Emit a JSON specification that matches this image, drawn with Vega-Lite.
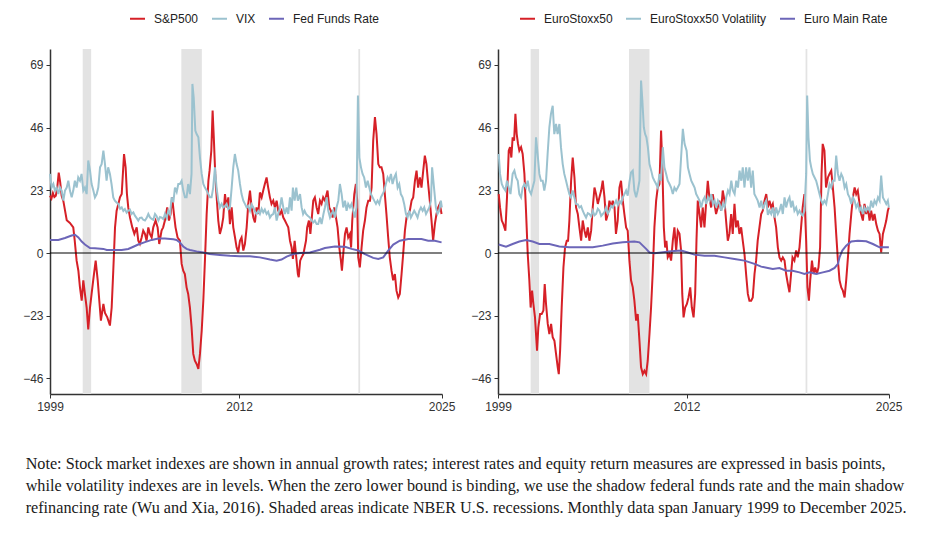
{
  "$schema": "https://vega.github.io/schema/vega-lite/v6.json",
  "padding": {"left": 22, "top": 10, "right": 10, "bottom": 5},
  "bounds": "flush",
  "spacing": 56,
  "datasets": {
    "rec": [
      {"a": 2001.25, "b": 2001.83},
      {"a": 2008.03, "b": 2009.44},
      {"a": 2020.2, "b": 2020.32}
    ],
    "sp": [
      {"t":1999.0,"v":21},{"t":1999.1,"v":20},{"t":1999.2,"v":22},{"t":1999.3,"v":20.5},{"t":1999.4,"v":21},{"t":1999.5,"v":24},{"t":1999.6,"v":29.5},{"t":1999.7,"v":26},{"t":1999.8,"v":21},{"t":1999.92,"v":19},
      {"t":2000.15,"v":12},{"t":2000.37,"v":11},{"t":2000.6,"v":9.4},{"t":2000.7,"v":4.5},{"t":2000.83,"v":-2.8},{"t":2000.95,"v":-6.5},{"t":2001.06,"v":-12.6},{"t":2001.18,"v":-17.5},{"t":2001.29,"v":-10},{"t":2001.4,"v":-15},{"t":2001.52,"v":-20},{"t":2001.63,"v":-28},{"t":2001.75,"v":-20},{"t":2001.86,"v":-15},{"t":2001.97,"v":-10},
      {"t":2002.14,"v":-2.8},{"t":2002.28,"v":-10},{"t":2002.39,"v":-17.5},{"t":2002.5,"v":-24.8},{"t":2002.67,"v":-18.7},{"t":2002.78,"v":-22},{"t":2002.94,"v":-23.6},{"t":2003.12,"v":-26.6},{"t":2003.24,"v":-20},{"t":2003.35,"v":-6.5},{"t":2003.47,"v":9.4},{"t":2003.58,"v":15.5},{"t":2003.7,"v":18},{"t":2003.81,"v":20.4},{"t":2003.93,"v":21.6},
      {"t":2004.09,"v":36.3},{"t":2004.2,"v":31.4},{"t":2004.29,"v":21.6},{"t":2004.38,"v":16.7},{"t":2004.5,"v":13},{"t":2004.66,"v":9.4},{"t":2004.8,"v":7},{"t":2004.96,"v":9.4},{"t":2005.07,"v":4.5},{"t":2005.18,"v":3.3},{"t":2005.3,"v":5.7},{"t":2005.41,"v":8.2},{"t":2005.53,"v":7},{"t":2005.64,"v":4.5},{"t":2005.76,"v":9.4},{"t":2005.87,"v":7},{"t":2005.99,"v":5.7},
      {"t":2006.1,"v":9.4},{"t":2006.26,"v":11.9},{"t":2006.4,"v":9.4},{"t":2006.51,"v":3.3},{"t":2006.67,"v":8.2},{"t":2006.78,"v":9.4},{"t":2006.9,"v":11.9},{"t":2007.06,"v":16.7},{"t":2007.18,"v":11.9},{"t":2007.29,"v":14.3},{"t":2007.4,"v":20.4},{"t":2007.52,"v":14.3},{"t":2007.63,"v":9.4},{"t":2007.77,"v":5.7},{"t":2007.93,"v":4.5},
      {"t":2008.05,"v":-4},{"t":2008.16,"v":-6.5},{"t":2008.27,"v":-7.7},{"t":2008.39,"v":-12.6},{"t":2008.5,"v":-15},{"t":2008.62,"v":-20},{"t":2008.73,"v":-27},{"t":2008.85,"v":-37},{"t":2008.96,"v":-39.5},{"t":2009.08,"v":-40.7},{"t":2009.2,"v":-42.5},{"t":2009.31,"v":-37},{"t":2009.43,"v":-28.5},{"t":2009.54,"v":-17.5},{"t":2009.66,"v":-1.6},{"t":2009.77,"v":14.3},{"t":2009.89,"v":26.5},{"t":2009.97,"v":30.2},
      {"t":2010.09,"v":37.5},{"t":2010.18,"v":52.2},{"t":2010.27,"v":41.2},{"t":2010.36,"v":29},{"t":2010.46,"v":20.4},{"t":2010.57,"v":11.9},{"t":2010.68,"v":7},{"t":2010.8,"v":9.4},{"t":2010.91,"v":13},{"t":2011.03,"v":21.6},{"t":2011.14,"v":16.7},{"t":2011.26,"v":20.4},{"t":2011.37,"v":10.6},{"t":2011.49,"v":16.7},{"t":2011.6,"v":9.4},{"t":2011.72,"v":5.7},{"t":2011.83,"v":2},{"t":2011.94,"v":0.2},
      {"t":2012.06,"v":4.5},{"t":2012.17,"v":5.7},{"t":2012.29,"v":0.9},{"t":2012.4,"v":3.3},{"t":2012.52,"v":9.4},{"t":2012.63,"v":18},{"t":2012.75,"v":22.9},{"t":2012.86,"v":16.7},{"t":2012.98,"v":13},{"t":2013.09,"v":11.2},{"t":2013.2,"v":16.7},{"t":2013.32,"v":14.3},{"t":2013.43,"v":22.2},{"t":2013.55,"v":20.4},{"t":2013.66,"v":22.9},{"t":2013.77,"v":25.3},{"t":2013.89,"v":27.7},
      {"t":2014.0,"v":24},{"t":2014.12,"v":20.4},{"t":2014.23,"v":18},{"t":2014.35,"v":19.2},{"t":2014.46,"v":16.7},{"t":2014.58,"v":19.2},{"t":2014.69,"v":15.5},{"t":2014.81,"v":14.3},{"t":2014.92,"v":15.5},{"t":2015.04,"v":13},{"t":2015.15,"v":11.9},{"t":2015.27,"v":10.6},{"t":2015.38,"v":9.4},{"t":2015.5,"v":4.5},{"t":2015.61,"v":2},{"t":2015.7,"v":-2.2},{"t":2015.82,"v":4.5},{"t":2015.93,"v":-1.6},
      {"t":2016.04,"v":-7.7},{"t":2016.1,"v":-8.9},{"t":2016.2,"v":-2.8},{"t":2016.3,"v":-1.6},{"t":2016.42,"v":-0.4},{"t":2016.6,"v":4.5},{"t":2016.68,"v":9.4},{"t":2016.8,"v":11.9},{"t":2016.9,"v":7},{"t":2017.0,"v":13},{"t":2017.1,"v":19.2},{"t":2017.21,"v":20.4},{"t":2017.33,"v":16.7},{"t":2017.44,"v":14.3},{"t":2017.56,"v":19.2},{"t":2017.67,"v":18},{"t":2017.78,"v":20.4},{"t":2017.9,"v":19.2},
      {"t":2018.08,"v":22.9},{"t":2018.2,"v":16.7},{"t":2018.31,"v":15.5},{"t":2018.43,"v":13},{"t":2018.54,"v":16.7},{"t":2018.66,"v":13},{"t":2018.77,"v":9.4},{"t":2018.89,"v":2},{"t":2019.0,"v":-2.8},{"t":2019.07,"v":-6.5},{"t":2019.16,"v":-0.4},{"t":2019.28,"v":7},{"t":2019.39,"v":9.4},{"t":2019.5,"v":5.7},{"t":2019.62,"v":7},{"t":2019.7,"v":2},{"t":2019.78,"v":11.9},{"t":2019.92,"v":21.6},
      {"t":2020.03,"v":25.3},{"t":2020.12,"v":19.2},{"t":2020.19,"v":-1.6},{"t":2020.3,"v":-5.3},{"t":2020.42,"v":2},{"t":2020.53,"v":8.2},{"t":2020.65,"v":11.9},{"t":2020.76,"v":16.7},{"t":2020.88,"v":19.2},{"t":2021.0,"v":19.2},{"t":2021.11,"v":24},{"t":2021.22,"v":41.2},{"t":2021.34,"v":49.8},{"t":2021.45,"v":43.6},{"t":2021.57,"v":32.6},{"t":2021.68,"v":31.4},{"t":2021.79,"v":31.4},{"t":2021.91,"v":29},
      {"t":2022.02,"v":21.6},{"t":2022.13,"v":14.3},{"t":2022.25,"v":5.7},{"t":2022.36,"v":-1.6},{"t":2022.48,"v":-6.5},{"t":2022.59,"v":-10},{"t":2022.71,"v":-7.7},{"t":2022.82,"v":-13.8},{"t":2022.94,"v":-16.3},{"t":2023.05,"v":-15},{"t":2023.17,"v":-7.7},{"t":2023.28,"v":-0.4},{"t":2023.4,"v":8.2},{"t":2023.51,"v":13},{"t":2023.63,"v":14.3},{"t":2023.74,"v":15.5},{"t":2023.86,"v":19.2},{"t":2023.97,"v":20.4},
      {"t":2024.09,"v":26.5},{"t":2024.2,"v":30.2},{"t":2024.31,"v":24},{"t":2024.43,"v":27.7},{"t":2024.54,"v":24},{"t":2024.66,"v":30.2},{"t":2024.77,"v":35.7},{"t":2024.88,"v":32.6},{"t":2025.0,"v":25.3},{"t":2025.11,"v":19.2},{"t":2025.23,"v":11.9},{"t":2025.34,"v":4.5},{"t":2025.46,"v":10.6},{"t":2025.57,"v":14.3},{"t":2025.69,"v":16.7},{"t":2025.8,"v":18},{"t":2025.92,"v":14.3}
    ],
    "vix": [
      {"t":1999.0,"v":29},{"t":1999.11,"v":24},{"t":1999.23,"v":25.3},{"t":1999.34,"v":22.9},{"t":1999.46,"v":24},{"t":1999.57,"v":21.6},{"t":1999.69,"v":24},{"t":1999.8,"v":22.9},{"t":1999.92,"v":19.2},
      {"t":2000.03,"v":22.9},{"t":2000.15,"v":24},{"t":2000.26,"v":26.5},{"t":2000.37,"v":22.9},{"t":2000.49,"v":20.4},{"t":2000.6,"v":22.9},{"t":2000.71,"v":26.5},{"t":2000.83,"v":24},{"t":2000.94,"v":27.7},
      {"t":2001.06,"v":26.5},{"t":2001.17,"v":29},{"t":2001.29,"v":22.9},{"t":2001.4,"v":24},{"t":2001.52,"v":21.6},{"t":2001.63,"v":33.9},{"t":2001.75,"v":30.2},{"t":2001.86,"v":25.3},{"t":2001.98,"v":22.9},
      {"t":2002.09,"v":20.4},{"t":2002.21,"v":21.6},{"t":2002.32,"v":24},{"t":2002.44,"v":31.4},{"t":2002.55,"v":32.6},{"t":2002.67,"v":37.5},{"t":2002.78,"v":32.6},{"t":2002.89,"v":26.5},
      {"t":2003.0,"v":31.4},{"t":2003.12,"v":29},{"t":2003.23,"v":25.3},{"t":2003.35,"v":20.4},{"t":2003.46,"v":19.2},{"t":2003.58,"v":18.5},{"t":2003.7,"v":18},{"t":2003.82,"v":16.2},{"t":2003.93,"v":16.7},
      {"t":2004.04,"v":15.4},{"t":2004.15,"v":16.1},{"t":2004.27,"v":14.8},{"t":2004.38,"v":15.5},{"t":2004.5,"v":15.9},{"t":2004.61,"v":14.3},{"t":2004.73,"v":14.9},{"t":2004.84,"v":13.7},{"t":2004.96,"v":12.8},
      {"t":2005.07,"v":11.9},{"t":2005.18,"v":12.9},{"t":2005.3,"v":13},{"t":2005.41,"v":12.2},{"t":2005.53,"v":11.9},{"t":2005.64,"v":12.8},{"t":2005.76,"v":14.3},{"t":2005.87,"v":13.1},{"t":2005.99,"v":12.5},
      {"t":2006.1,"v":12.2},{"t":2006.22,"v":14.3},{"t":2006.33,"v":13.5},{"t":2006.45,"v":11.9},{"t":2006.56,"v":13.2},{"t":2006.68,"v":13},{"t":2006.79,"v":12.4},{"t":2006.9,"v":14.3},
      {"t":2007.02,"v":12.8},{"t":2007.13,"v":15.5},{"t":2007.25,"v":14.2},{"t":2007.36,"v":20.4},{"t":2007.48,"v":18.6},{"t":2007.59,"v":24},{"t":2007.71,"v":22.4},{"t":2007.82,"v":25.3},{"t":2007.93,"v":25.3},
      {"t":2008.05,"v":26.5},{"t":2008.16,"v":22.9},{"t":2008.28,"v":20.4},{"t":2008.39,"v":20.4},{"t":2008.5,"v":25.3},{"t":2008.62,"v":21.6},{"t":2008.73,"v":29},{"t":2008.79,"v":62},{"t":2008.88,"v":57},{"t":2008.99,"v":44.9},
      {"t":2009.08,"v":43.6},{"t":2009.2,"v":42.4},{"t":2009.31,"v":35},{"t":2009.43,"v":29},{"t":2009.54,"v":25.3},{"t":2009.65,"v":24},{"t":2009.77,"v":22.9},{"t":2009.88,"v":21.6},
      {"t":2010.0,"v":20.4},{"t":2010.11,"v":20.4},{"t":2010.22,"v":24},{"t":2010.34,"v":31.4},{"t":2010.45,"v":24},{"t":2010.57,"v":19.2},{"t":2010.68,"v":16.7},{"t":2010.8,"v":18},{"t":2010.91,"v":16.7},
      {"t":2011.03,"v":17.2},{"t":2011.14,"v":18},{"t":2011.26,"v":16.1},{"t":2011.37,"v":16.7},{"t":2011.49,"v":24},{"t":2011.6,"v":31.4},{"t":2011.71,"v":36.3},{"t":2011.83,"v":32.6},{"t":2011.94,"v":30.2},
      {"t":2012.06,"v":25.3},{"t":2012.17,"v":21.6},{"t":2012.29,"v":19.2},{"t":2012.4,"v":18},{"t":2012.52,"v":16.7},{"t":2012.63,"v":17.3},{"t":2012.75,"v":15.5},{"t":2012.86,"v":17.8},{"t":2012.98,"v":16.7},
      {"t":2013.09,"v":15.2},{"t":2013.2,"v":14.3},{"t":2013.32,"v":15.4},{"t":2013.43,"v":14.3},{"t":2013.55,"v":16.2},{"t":2013.66,"v":14.9},{"t":2013.77,"v":15.9},{"t":2013.89,"v":14.3},
      {"t":2014.0,"v":15.1},{"t":2014.12,"v":13},{"t":2014.23,"v":13.9},{"t":2014.35,"v":14.3},{"t":2014.46,"v":16.7},{"t":2014.58,"v":11.9},{"t":2014.69,"v":14.3},{"t":2014.81,"v":16.7},{"t":2014.92,"v":20.4},
      {"t":2015.04,"v":16.7},{"t":2015.15,"v":14.3},{"t":2015.27,"v":16.7},{"t":2015.38,"v":14.3},{"t":2015.5,"v":20.4},{"t":2015.61,"v":15.5},{"t":2015.7,"v":24},{"t":2015.82,"v":19.2},{"t":2015.93,"v":24},
      {"t":2016.04,"v":19.2},{"t":2016.19,"v":21.6},{"t":2016.3,"v":16.7},{"t":2016.4,"v":14.3},{"t":2016.5,"v":15.5},{"t":2016.6,"v":14.3},{"t":2016.72,"v":13.7},{"t":2016.87,"v":13},{"t":2016.99,"v":11.9},
      {"t":2017.1,"v":11.2},{"t":2017.21,"v":11.9},{"t":2017.33,"v":10.6},{"t":2017.44,"v":10.6},{"t":2017.56,"v":13},{"t":2017.67,"v":10.6},{"t":2017.8,"v":14.3},{"t":2017.9,"v":16.7},
      {"t":2018.02,"v":20.4},{"t":2018.13,"v":15.5},{"t":2018.25,"v":13},{"t":2018.36,"v":14.3},{"t":2018.47,"v":15.5},{"t":2018.59,"v":13},{"t":2018.7,"v":16.7},{"t":2018.82,"v":19.2},{"t":2018.93,"v":25.3},
      {"t":2019.05,"v":21.6},{"t":2019.16,"v":16.7},{"t":2019.28,"v":19.2},{"t":2019.39,"v":15.5},{"t":2019.5,"v":18},{"t":2019.62,"v":16.7},{"t":2019.73,"v":18},{"t":2019.85,"v":15.5},{"t":2019.96,"v":13},
      {"t":2020.07,"v":16.7},{"t":2020.17,"v":57.7},{"t":2020.27,"v":35},{"t":2020.38,"v":31.4},{"t":2020.49,"v":29},{"t":2020.6,"v":27.7},{"t":2020.72,"v":24},{"t":2020.84,"v":26.5},{"t":2020.95,"v":24},
      {"t":2021.06,"v":21.6},{"t":2021.18,"v":20.4},{"t":2021.29,"v":19.2},{"t":2021.41,"v":18},{"t":2021.52,"v":19.2},{"t":2021.64,"v":18},{"t":2021.75,"v":20.4},{"t":2021.87,"v":21.6},{"t":2021.98,"v":22.9},
      {"t":2022.09,"v":25.3},{"t":2022.21,"v":27.7},{"t":2022.32,"v":26.5},{"t":2022.44,"v":29},{"t":2022.55,"v":25.3},{"t":2022.67,"v":27.7},{"t":2022.78,"v":29},{"t":2022.9,"v":24},
      {"t":2023.01,"v":25.3},{"t":2023.12,"v":21.6},{"t":2023.24,"v":20.4},{"t":2023.35,"v":18},{"t":2023.47,"v":14.3},{"t":2023.58,"v":13},{"t":2023.7,"v":15.5},{"t":2023.81,"v":13},{"t":2023.93,"v":14.3},
      {"t":2024.04,"v":15.5},{"t":2024.16,"v":14.3},{"t":2024.27,"v":13},{"t":2024.39,"v":15.5},{"t":2024.5,"v":16.7},{"t":2024.62,"v":15.5},{"t":2024.73,"v":16.7},{"t":2024.85,"v":14.3},{"t":2024.96,"v":15.5},
      {"t":2025.08,"v":16.7},{"t":2025.19,"v":19.2},{"t":2025.27,"v":31.4},{"t":2025.42,"v":22.9},{"t":2025.53,"v":16.7},{"t":2025.64,"v":14.3},{"t":2025.76,"v":15.5},{"t":2025.87,"v":19.2},{"t":2025.94,"v":16.7}
    ],
    "ff": [
      {"t":1999.0,"v":4.8},{"t":1999.57,"v":4.8},{"t":2000.03,"v":5.5},{"t":2000.49,"v":6.4},{"t":2000.72,"v":6.7},{"t":2000.95,"v":5.7},{"t":2001.18,"v":4.2},{"t":2001.4,"v":3.1},{"t":2001.75,"v":1.8},{"t":2002.09,"v":1.7},{"t":2002.67,"v":1.5},{"t":2002.9,"v":1.1},{"t":2003.47,"v":1.1},{"t":2003.93,"v":1.1},{"t":2004.38,"v":1.5},{"t":2004.73,"v":2.3},{"t":2005.07,"v":3.1},{"t":2005.53,"v":4},{"t":2005.99,"v":4.8},{"t":2006.45,"v":5.3},{"t":2006.9,"v":5.3},{"t":2007.48,"v":5},{"t":2007.7,"v":4.8},{"t":2007.93,"v":3.9},
      {"t":2008.16,"v":2.4},{"t":2008.39,"v":1.5},{"t":2008.62,"v":1.1},{"t":2009.08,"v":0.6},{"t":2009.54,"v":0.2},{"t":2009.97,"v":-0.4},{"t":2010.68,"v":-0.7},{"t":2011.37,"v":-1},{"t":2012.06,"v":-1.2},{"t":2012.75,"v":-1.2},{"t":2013.43,"v":-1.6},{"t":2014.12,"v":-2.4},{"t":2014.58,"v":-2.8},{"t":2014.92,"v":-2.4},{"t":2015.27,"v":-1.3},{"t":2015.73,"v":-0.4},{"t":2016.19,"v":0},{"t":2016.87,"v":0.2},
      {"t":2017.56,"v":1.2},{"t":2017.9,"v":1.8},{"t":2018.59,"v":2.4},{"t":2019.28,"v":2.3},{"t":2019.73,"v":1.5},{"t":2020.19,"v":0.9},{"t":2020.65,"v":-0.4},{"t":2021.22,"v":-1.8},{"t":2021.57,"v":-2.2},{"t":2021.91,"v":-1.6},{"t":2022.25,"v":0.9},{"t":2022.6,"v":3.1},{"t":2023.05,"v":4.5},{"t":2023.63,"v":5.1},{"t":2024.54,"v":5.1},{"t":2025.0,"v":4.5},{"t":2025.46,"v":4.5},{"t":2025.92,"v":3.9}
    ],
    "es": [
      {"t":1999.05,"v":21.6},{"t":1999.14,"v":16.7},{"t":1999.26,"v":11.9},{"t":1999.37,"v":10.6},{"t":1999.51,"v":8.2},{"t":1999.62,"v":20.4},{"t":1999.74,"v":37.5},{"t":1999.83,"v":38.8},{"t":1999.92,"v":35},
      {"t":2000.01,"v":42.4},{"t":2000.11,"v":41.2},{"t":2000.2,"v":51},{"t":2000.29,"v":43.6},{"t":2000.38,"v":40},{"t":2000.47,"v":37.5},{"t":2000.59,"v":38.8},{"t":2000.7,"v":36.3},{"t":2000.82,"v":29},{"t":2000.93,"v":15.5},
      {"t":2001.05,"v":-0.4},{"t":2001.16,"v":-10},{"t":2001.25,"v":-20},{"t":2001.35,"v":-13.8},{"t":2001.44,"v":-18.7},{"t":2001.55,"v":-23.6},{"t":2001.69,"v":-35.8},{"t":2001.78,"v":-27.3},{"t":2001.9,"v":-22.4},
      {"t":2002.01,"v":-22.4},{"t":2002.13,"v":-21.1},{"t":2002.22,"v":-11.4},{"t":2002.31,"v":-18.7},{"t":2002.43,"v":-26},{"t":2002.54,"v":-29.7},{"t":2002.66,"v":-26},{"t":2002.77,"v":-30.9},{"t":2002.89,"v":-32.2},
      {"t":2003.0,"v":-37},{"t":2003.12,"v":-42},{"t":2003.19,"v":-44.4},{"t":2003.28,"v":-35.8},{"t":2003.39,"v":-20},{"t":2003.51,"v":-5.3},{"t":2003.62,"v":2},{"t":2003.74,"v":4.5},{"t":2003.83,"v":4.5},{"t":2003.92,"v":11.9},
      {"t":2004.04,"v":26.5},{"t":2004.15,"v":35},{"t":2004.27,"v":27.7},{"t":2004.38,"v":16.7},{"t":2004.5,"v":14.3},{"t":2004.61,"v":9.4},{"t":2004.73,"v":4.5},{"t":2004.84,"v":11.9},{"t":2004.96,"v":8.2},
      {"t":2005.07,"v":5.7},{"t":2005.19,"v":9.4},{"t":2005.3,"v":4.5},{"t":2005.42,"v":8.2},{"t":2005.53,"v":16.7},{"t":2005.65,"v":24},{"t":2005.76,"v":21.6},{"t":2005.88,"v":18},{"t":2005.99,"v":20.4},
      {"t":2006.11,"v":22.9},{"t":2006.22,"v":26.5},{"t":2006.34,"v":20.4},{"t":2006.45,"v":11.9},{"t":2006.57,"v":14.3},{"t":2006.68,"v":19.2},{"t":2006.8,"v":16.7},{"t":2006.91,"v":19.2},
      {"t":2007.03,"v":16.7},{"t":2007.13,"v":7},{"t":2007.25,"v":11.9},{"t":2007.37,"v":24},{"t":2007.48,"v":26.5},{"t":2007.6,"v":19.2},{"t":2007.71,"v":14.3},{"t":2007.83,"v":9.4},{"t":2007.94,"v":8.2},
      {"t":2008.06,"v":-3},{"t":2008.17,"v":-10},{"t":2008.29,"v":-12.6},{"t":2008.4,"v":-17.5},{"t":2008.52,"v":-24.8},{"t":2008.63,"v":-22.4},{"t":2008.75,"v":-32.2},{"t":2008.86,"v":-41.9},{"t":2008.98,"v":-44.4},
      {"t":2009.09,"v":-43.2},{"t":2009.21,"v":-44.4},{"t":2009.32,"v":-39.5},{"t":2009.44,"v":-29.7},{"t":2009.55,"v":-20},{"t":2009.67,"v":-6.5},{"t":2009.78,"v":9.4},{"t":2009.9,"v":19.2},
      {"t":2010.01,"v":24},{"t":2010.13,"v":25.3},{"t":2010.24,"v":44.9},{"t":2010.33,"v":31.4},{"t":2010.43,"v":9.4},{"t":2010.52,"v":2},{"t":2010.61,"v":4.5},{"t":2010.7,"v":-1.6},{"t":2010.82,"v":-0.4},{"t":2010.93,"v":-2.8},
      {"t":2011.05,"v":4.5},{"t":2011.16,"v":9.4},{"t":2011.28,"v":0.9},{"t":2011.39,"v":8.2},{"t":2011.51,"v":7},{"t":2011.62,"v":0.9},{"t":2011.7,"v":-15},{"t":2011.79,"v":-23.6},{"t":2011.9,"v":-20},
      {"t":2012.02,"v":-18.7},{"t":2012.13,"v":-16.3},{"t":2012.25,"v":-12.6},{"t":2012.36,"v":-20},{"t":2012.48,"v":-23.6},{"t":2012.59,"v":-15},{"t":2012.68,"v":4.5},{"t":2012.77,"v":19.2},{"t":2012.89,"v":14.3},
      {"t":2013.0,"v":9.4},{"t":2013.11,"v":16.7},{"t":2013.23,"v":9.4},{"t":2013.34,"v":18},{"t":2013.46,"v":26.5},{"t":2013.57,"v":20.4},{"t":2013.69,"v":16.7},{"t":2013.8,"v":21.6},{"t":2013.92,"v":18},
      {"t":2014.03,"v":14.3},{"t":2014.15,"v":16.7},{"t":2014.26,"v":19.2},{"t":2014.38,"v":15.5},{"t":2014.49,"v":22.9},{"t":2014.61,"v":19.2},{"t":2014.72,"v":11.9},{"t":2014.84,"v":4.5},{"t":2014.95,"v":7},
      {"t":2015.07,"v":14.3},{"t":2015.18,"v":7},{"t":2015.3,"v":18},{"t":2015.41,"v":9.4},{"t":2015.53,"v":11.9},{"t":2015.64,"v":7},{"t":2015.76,"v":9.4},{"t":2015.87,"v":4.5},{"t":2015.99,"v":-0.4},
      {"t":2016.1,"v":-7.7},{"t":2016.22,"v":-15},{"t":2016.33,"v":-17.5},{"t":2016.45,"v":-17.5},{"t":2016.56,"v":-16.3},{"t":2016.68,"v":-7.7},{"t":2016.79,"v":-2.8},{"t":2016.9,"v":4.5},
      {"t":2017.02,"v":9.4},{"t":2017.14,"v":14.3},{"t":2017.25,"v":15.5},{"t":2017.37,"v":19.2},{"t":2017.49,"v":21.6},{"t":2017.6,"v":16.7},{"t":2017.71,"v":19.2},{"t":2017.83,"v":16.7},{"t":2017.94,"v":18},
      {"t":2018.06,"v":13},{"t":2018.17,"v":9.4},{"t":2018.29,"v":2},{"t":2018.4,"v":-1.6},{"t":2018.52,"v":-2.8},{"t":2018.63,"v":-1.6},{"t":2018.75,"v":-2.8},{"t":2018.86,"v":-7.7},{"t":2018.98,"v":-11.4},
      {"t":2019.09,"v":-14.4},{"t":2019.2,"v":-7.7},{"t":2019.3,"v":-1.6},{"t":2019.43,"v":-2.8},{"t":2019.55,"v":0.9},{"t":2019.66,"v":-1.6},{"t":2019.78,"v":2},{"t":2019.89,"v":9.4},
      {"t":2020.0,"v":16.7},{"t":2020.12,"v":21.6},{"t":2020.24,"v":4.5},{"t":2020.33,"v":-12.6},{"t":2020.43,"v":-17.5},{"t":2020.52,"v":-10},{"t":2020.64,"v":-2.8},{"t":2020.75,"v":-7.7},{"t":2020.86,"v":-5.3},{"t":2020.98,"v":-7.7},
      {"t":2021.09,"v":-5.3},{"t":2021.2,"v":2},{"t":2021.3,"v":29},{"t":2021.38,"v":40},{"t":2021.5,"v":37.5},{"t":2021.61,"v":24},{"t":2021.74,"v":27.7},{"t":2021.85,"v":29},{"t":2021.97,"v":30.2},
      {"t":2022.08,"v":24},{"t":2022.2,"v":16.7},{"t":2022.31,"v":7},{"t":2022.43,"v":-2.8},{"t":2022.54,"v":-10},{"t":2022.66,"v":-12.6},{"t":2022.77,"v":-13.8},{"t":2022.89,"v":-16.3},
      {"t":2023.0,"v":-10},{"t":2023.12,"v":-1.6},{"t":2023.23,"v":7},{"t":2023.35,"v":14.3},{"t":2023.46,"v":20.4},{"t":2023.58,"v":24},{"t":2023.69,"v":21.6},{"t":2023.8,"v":22.9},{"t":2023.92,"v":18},
      {"t":2024.03,"v":14.3},{"t":2024.15,"v":11.9},{"t":2024.26,"v":18},{"t":2024.38,"v":14.3},{"t":2024.49,"v":16.7},{"t":2024.61,"v":11.9},{"t":2024.72,"v":15.5},{"t":2024.84,"v":11.9},{"t":2024.95,"v":14.3},
      {"t":2025.07,"v":10.6},{"t":2025.19,"v":8.2},{"t":2025.3,"v":7},{"t":2025.41,"v":0.2},{"t":2025.53,"v":7},{"t":2025.65,"v":9.4},{"t":2025.76,"v":11.9},{"t":2025.87,"v":15.5},{"t":2025.94,"v":16.7}
    ],
    "ev": [
      {"t":1999.05,"v":36.3},{"t":1999.14,"v":29},{"t":1999.26,"v":25.3},{"t":1999.37,"v":24},{"t":1999.51,"v":22.9},{"t":1999.62,"v":26.5},{"t":1999.74,"v":24},{"t":1999.86,"v":21.6},
      {"t":2000.01,"v":29},{"t":2000.13,"v":30.2},{"t":2000.24,"v":27.7},{"t":2000.36,"v":26.5},{"t":2000.47,"v":21.6},{"t":2000.59,"v":20.4},{"t":2000.7,"v":24},{"t":2000.82,"v":25.3},{"t":2000.93,"v":24},
      {"t":2001.05,"v":26.5},{"t":2001.16,"v":22.9},{"t":2001.28,"v":21.6},{"t":2001.39,"v":24},{"t":2001.51,"v":26.5},{"t":2001.62,"v":42.4},{"t":2001.73,"v":36.3},{"t":2001.85,"v":29},{"t":2001.96,"v":26.5},
      {"t":2002.08,"v":26.5},{"t":2002.19,"v":22.9},{"t":2002.31,"v":26.5},{"t":2002.42,"v":36.3},{"t":2002.54,"v":46.1},{"t":2002.65,"v":51},{"t":2002.77,"v":54},{"t":2002.88,"v":43.6},
      {"t":2003.0,"v":47.3},{"t":2003.11,"v":43.6},{"t":2003.23,"v":47.3},{"t":2003.34,"v":38.8},{"t":2003.46,"v":32.6},{"t":2003.57,"v":29},{"t":2003.69,"v":26.5},{"t":2003.8,"v":24},{"t":2003.92,"v":21.6},
      {"t":2004.03,"v":20.4},{"t":2004.15,"v":22.9},{"t":2004.26,"v":20.4},{"t":2004.38,"v":18},{"t":2004.5,"v":17.8},{"t":2004.61,"v":16.7},{"t":2004.73,"v":17.2},{"t":2004.84,"v":15.5},{"t":2004.96,"v":14.1},
      {"t":2005.07,"v":13},{"t":2005.19,"v":14.6},{"t":2005.3,"v":14.3},{"t":2005.42,"v":13.4},{"t":2005.53,"v":15.5},{"t":2005.65,"v":13.8},{"t":2005.76,"v":14.3},{"t":2005.88,"v":16.2},{"t":2005.99,"v":15.5},
      {"t":2006.11,"v":13.6},{"t":2006.22,"v":14.3},{"t":2006.34,"v":15.1},{"t":2006.45,"v":16.7},{"t":2006.57,"v":14.5},{"t":2006.68,"v":15.5},{"t":2006.8,"v":17.3},{"t":2006.91,"v":16.7},
      {"t":2007.03,"v":17.9},{"t":2007.14,"v":19.2},{"t":2007.26,"v":17.6},{"t":2007.37,"v":19.2},{"t":2007.49,"v":18.2},{"t":2007.6,"v":20.4},{"t":2007.71,"v":21.5},{"t":2007.83,"v":22.9},{"t":2007.94,"v":21},
      {"t":2008.06,"v":26},{"t":2008.17,"v":29.5},{"t":2008.29,"v":30.2},{"t":2008.4,"v":22.9},{"t":2008.52,"v":20.4},{"t":2008.63,"v":22.9},{"t":2008.75,"v":26.5},{"t":2008.86,"v":63.2},{"t":2008.95,"v":55.9},
      {"t":2009.05,"v":46.1},{"t":2009.14,"v":43.6},{"t":2009.23,"v":42.4},{"t":2009.33,"v":38.8},{"t":2009.44,"v":32.6},{"t":2009.56,"v":30.2},{"t":2009.67,"v":27.7},{"t":2009.78,"v":26.5},{"t":2009.9,"v":25.3},
      {"t":2010.01,"v":24},{"t":2010.13,"v":29},{"t":2010.24,"v":26.5},{"t":2010.36,"v":38.8},{"t":2010.47,"v":31.4},{"t":2010.59,"v":29},{"t":2010.7,"v":26.5},{"t":2010.82,"v":25.3},{"t":2010.93,"v":24},
      {"t":2011.05,"v":21.6},{"t":2011.16,"v":24},{"t":2011.28,"v":22.9},{"t":2011.39,"v":24},{"t":2011.51,"v":25.3},{"t":2011.62,"v":35},{"t":2011.74,"v":45.5},{"t":2011.86,"v":40},
      {"t":2012.0,"v":37.5},{"t":2012.09,"v":31.4},{"t":2012.2,"v":29},{"t":2012.32,"v":26.5},{"t":2012.43,"v":25.3},{"t":2012.55,"v":24},{"t":2012.66,"v":21.6},{"t":2012.78,"v":20.4},{"t":2012.89,"v":19.2},
      {"t":2013.01,"v":16.7},{"t":2013.12,"v":19.2},{"t":2013.24,"v":20.4},{"t":2013.35,"v":18},{"t":2013.47,"v":20.4},{"t":2013.58,"v":19.2},{"t":2013.7,"v":21.6},{"t":2013.81,"v":18},{"t":2013.93,"v":19.2},
      {"t":2014.04,"v":16.7},{"t":2014.16,"v":19.2},{"t":2014.27,"v":18},{"t":2014.39,"v":15.5},{"t":2014.5,"v":18},{"t":2014.62,"v":16.7},{"t":2014.73,"v":20.4},{"t":2014.85,"v":22.9},{"t":2014.96,"v":21.6},
      {"t":2015.08,"v":26.5},{"t":2015.19,"v":22.9},{"t":2015.31,"v":21.6},{"t":2015.42,"v":26.5},{"t":2015.54,"v":24},{"t":2015.65,"v":30.2},{"t":2015.77,"v":26.5},{"t":2015.87,"v":31.4},{"t":2015.99,"v":24},
      {"t":2016.1,"v":31.4},{"t":2016.22,"v":26.5},{"t":2016.33,"v":31.4},{"t":2016.45,"v":24},{"t":2016.56,"v":30.2},{"t":2016.67,"v":21.6},{"t":2016.79,"v":20.4},{"t":2016.9,"v":19.2},
      {"t":2017.03,"v":16.7},{"t":2017.14,"v":19.2},{"t":2017.26,"v":16.1},{"t":2017.37,"v":18},{"t":2017.49,"v":19.2},{"t":2017.6,"v":14},{"t":2017.71,"v":15.5},{"t":2017.83,"v":14.3},{"t":2017.94,"v":16.7},
      {"t":2018.06,"v":13},{"t":2018.17,"v":16.7},{"t":2018.29,"v":14.3},{"t":2018.4,"v":15.5},{"t":2018.52,"v":18},{"t":2018.63,"v":14.3},{"t":2018.75,"v":20.4},{"t":2018.86,"v":16.7},{"t":2018.98,"v":19.2},
      {"t":2019.09,"v":20.4},{"t":2019.2,"v":16.7},{"t":2019.3,"v":19.2},{"t":2019.43,"v":15.5},{"t":2019.55,"v":16.7},{"t":2019.66,"v":14.3},{"t":2019.78,"v":15.5},{"t":2019.89,"v":14.3},
      {"t":2020.0,"v":13.7},{"t":2020.12,"v":15.5},{"t":2020.24,"v":29},{"t":2020.31,"v":57.7},{"t":2020.4,"v":42.4},{"t":2020.5,"v":33.9},{"t":2020.59,"v":31.4},{"t":2020.7,"v":29},{"t":2020.82,"v":27.7},{"t":2020.93,"v":26.5},
      {"t":2021.05,"v":24},{"t":2021.16,"v":21.6},{"t":2021.28,"v":19.2},{"t":2021.39,"v":18},{"t":2021.5,"v":19.2},{"t":2021.62,"v":18},{"t":2021.74,"v":21.6},{"t":2021.85,"v":25.3},{"t":2021.97,"v":24},
      {"t":2022.08,"v":26.5},{"t":2022.2,"v":26.5},{"t":2022.31,"v":35.7},{"t":2022.43,"v":29},{"t":2022.54,"v":26.5},{"t":2022.66,"v":29},{"t":2022.77,"v":27.7},{"t":2022.89,"v":24},
      {"t":2023.0,"v":25.3},{"t":2023.12,"v":21.6},{"t":2023.23,"v":20.4},{"t":2023.35,"v":18},{"t":2023.46,"v":20.4},{"t":2023.58,"v":19.2},{"t":2023.69,"v":16.7},{"t":2023.8,"v":18},{"t":2023.92,"v":15.5},
      {"t":2024.03,"v":16.7},{"t":2024.15,"v":14.3},{"t":2024.26,"v":16.7},{"t":2024.38,"v":15.5},{"t":2024.49,"v":16.7},{"t":2024.61,"v":15.5},{"t":2024.72,"v":19.2},{"t":2024.84,"v":16.7},{"t":2024.95,"v":19.2},
      {"t":2025.07,"v":18},{"t":2025.19,"v":20.4},{"t":2025.3,"v":19.2},{"t":2025.41,"v":28.4},{"t":2025.53,"v":20.4},{"t":2025.65,"v":19.2},{"t":2025.76,"v":18},{"t":2025.87,"v":19.2},{"t":2025.94,"v":16.7}
    ],
    "ecb": [
      {"t":1999.05,"v":3.1},{"t":1999.55,"v":2.3},{"t":2000.01,"v":3.3},{"t":2000.47,"v":4.2},{"t":2000.93,"v":4.8},{"t":2001.39,"v":4.2},{"t":2001.85,"v":3.3},{"t":2002.54,"v":3.3},{"t":2003.23,"v":2.4},{"t":2003.92,"v":2.1},{"t":2004.61,"v":2.1},{"t":2005.53,"v":2.1},{"t":2006.22,"v":2.7},{"t":2006.91,"v":3.5},{"t":2007.6,"v":3.9},{"t":2008.4,"v":4.2},{"t":2008.75,"v":3.9},{"t":2008.98,"v":2.7},{"t":2009.21,"v":1.5},{"t":2009.44,"v":0.2},{"t":2009.78,"v":-0.1},
      {"t":2010.24,"v":0.2},{"t":2010.93,"v":0.6},{"t":2011.63,"v":0.9},{"t":2012.08,"v":0.2},{"t":2012.54,"v":-0.6},{"t":2013.23,"v":-1},{"t":2013.92,"v":-1},{"t":2014.61,"v":-1.6},{"t":2015.3,"v":-2.2},{"t":2015.99,"v":-2.8},{"t":2016.68,"v":-4},{"t":2017.14,"v":-5},{"t":2017.6,"v":-5.5},{"t":2017.94,"v":-5.9},{"t":2018.4,"v":-5.5},{"t":2018.86,"v":-6.5},{"t":2019.3,"v":-6.5},{"t":2019.78,"v":-7.1},
      {"t":2020.12,"v":-7.7},{"t":2020.47,"v":-7.1},{"t":2020.93,"v":-7.7},{"t":2021.39,"v":-7.1},{"t":2021.85,"v":-6.5},{"t":2022.2,"v":-5.5},{"t":2022.43,"v":-4},{"t":2022.54,"v":-1.6},{"t":2022.73,"v":0.9},{"t":2023.0,"v":2.7},{"t":2023.35,"v":4.2},{"t":2023.8,"v":4.5},{"t":2024.38,"v":4.3},{"t":2024.84,"v":3.3},{"t":2025.3,"v":2.1},{"t":2025.94,"v":2.1}
    ]
  },
  "title": {
    "text": [
      "Note: Stock market indexes are shown in annual growth rates; interest rates and equity return measures are expressed in basis points,",
      "while volatility indexes are in levels. When the zero lower bound is binding, we use the shadow federal funds rate and the main shadow",
      "refinancing rate (Wu and Xia, 2016). Shaded areas indicate NBER U.S. recessions. Monthly data span January 1999 to December 2025."
    ],
    "orient": "bottom",
    "anchor": "start",
    "frame": "bounds",
    "font": "Liberation Serif",
    "fontSize": 16.2,
    "fontWeight": "normal",
    "color": "#1a1a1a",
    "lineHeight": 22,
    "offset": 44,
    "dx": 3
  },
  "resolve": {"scale": {"color": "independent"}, "legend": {"color": "independent"}},
  "hconcat": [
    {
      "width": 392,
      "height": 345,
      "layer": [
        {
          "data": {"name": "rec"},
          "mark": {"type": "rect", "color": "#e3e3e3"},
          "encoding": {
            "x": {"field": "a", "type": "quantitative", "scale": {"domain": [1999, 2025.95], "nice": false, "zero": false},
              "axis": {"values": [1999, 2012, 2025.92], "labelExpr": "datum.value > 2020 ? '2025' : format(datum.value, 'd')"}},
            "x2": {"field": "b"}
          }
        },
        {
          "data": {"name": "sp"},
          "mark": {"type": "line", "strokeWidth": 2},
          "encoding": {
            "x": {"field": "t", "type": "quantitative"},
            "y": {"field": "v", "type": "quantitative", "scale": {"domain": [-51.7, 74.8], "nice": false, "zero": false},
              "axis": {"values": [-46, -23, 0, 23, 46, 69]}},
            "color": {"datum": "S&P500", "scale": {"domain": ["S&P500", "VIX", "Fed Funds Rate"], "range": ["#d62027", "#9bc2cf", "#6c66b8"]},
              "legend": {"legendX": 79, "legendY": -39}}
          }
        },
        {
          "data": {"name": "vix"},
          "mark": {"type": "line", "strokeWidth": 2},
          "encoding": {
            "x": {"field": "t", "type": "quantitative"},
            "y": {"field": "v", "type": "quantitative"},
            "color": {"datum": "VIX"}
          }
        },
        {
          "data": {"name": "ff"},
          "mark": {"type": "line", "strokeWidth": 2},
          "encoding": {
            "x": {"field": "t", "type": "quantitative"},
            "y": {"field": "v", "type": "quantitative"},
            "color": {"datum": "Fed Funds Rate"}
          }
        },
        {
          "data": {"values": [{}]},
          "mark": {"type": "rule", "color": "#000000", "strokeWidth": 1.2},
          "encoding": {"y": {"datum": 0}}
        }
      ]
    },
    {
      "width": 391,
      "height": 345,
      "layer": [
        {
          "data": {"name": "rec"},
          "mark": {"type": "rect", "color": "#e3e3e3"},
          "encoding": {
            "x": {"field": "a", "type": "quantitative", "scale": {"domain": [1999, 2025.95], "nice": false, "zero": false},
              "axis": {"values": [1999, 2012, 2025.92], "labelExpr": "datum.value > 2020 ? '2025' : format(datum.value, 'd')"}},
            "x2": {"field": "b"}
          }
        },
        {
          "data": {"name": "es"},
          "mark": {"type": "line", "strokeWidth": 2},
          "encoding": {
            "x": {"field": "t", "type": "quantitative"},
            "y": {"field": "v", "type": "quantitative", "scale": {"domain": [-51.7, 74.8], "nice": false, "zero": false},
              "axis": {"values": [-46, -23, 0, 23, 46, 69]}},
            "color": {"datum": "EuroStoxx50", "scale": {"domain": ["EuroStoxx50", "EuroStoxx50 Volatility", "Euro Main Rate"], "range": ["#d62027", "#9bc2cf", "#6c66b8"]},
              "legend": {"legendX": 21, "legendY": -39}}
          }
        },
        {
          "data": {"name": "ev"},
          "mark": {"type": "line", "strokeWidth": 2},
          "encoding": {
            "x": {"field": "t", "type": "quantitative"},
            "y": {"field": "v", "type": "quantitative"},
            "color": {"datum": "EuroStoxx50 Volatility"}
          }
        },
        {
          "data": {"name": "ecb"},
          "mark": {"type": "line", "strokeWidth": 2},
          "encoding": {
            "x": {"field": "t", "type": "quantitative"},
            "y": {"field": "v", "type": "quantitative"},
            "color": {"datum": "Euro Main Rate"}
          }
        },
        {
          "data": {"values": [{}]},
          "mark": {"type": "rule", "color": "#000000", "strokeWidth": 1.2},
          "encoding": {"y": {"datum": 0}}
        }
      ]
    }
  ],
  "config": {
    "view": {"stroke": null},
    "font": "Liberation Sans",
    "axis": {
      "title": null,
      "grid": false,
      "labelFont": "Liberation Sans",
      "labelFontSize": 12,
      "labelColor": "#333333",
      "labelFlush": false,
      "labelOverlap": false,
      "domainColor": "#333333",
      "domainWidth": 1.5,
      "tickColor": "#333333",
      "tickSize": 4,
      "tickWidth": 1,
      "labelPadding": 3
    },
    "legend": {
      "orient": "none",
      "direction": "horizontal",
      "title": null,
      "symbolType": "stroke",
      "symbolStrokeWidth": 2,
      "symbolSize": 225,
      "labelFont": "Liberation Sans",
      "labelFontSize": 12,
      "labelColor": "#222222",
      "labelOffset": 8,
      "columnPadding": 9
    }
  }
}
